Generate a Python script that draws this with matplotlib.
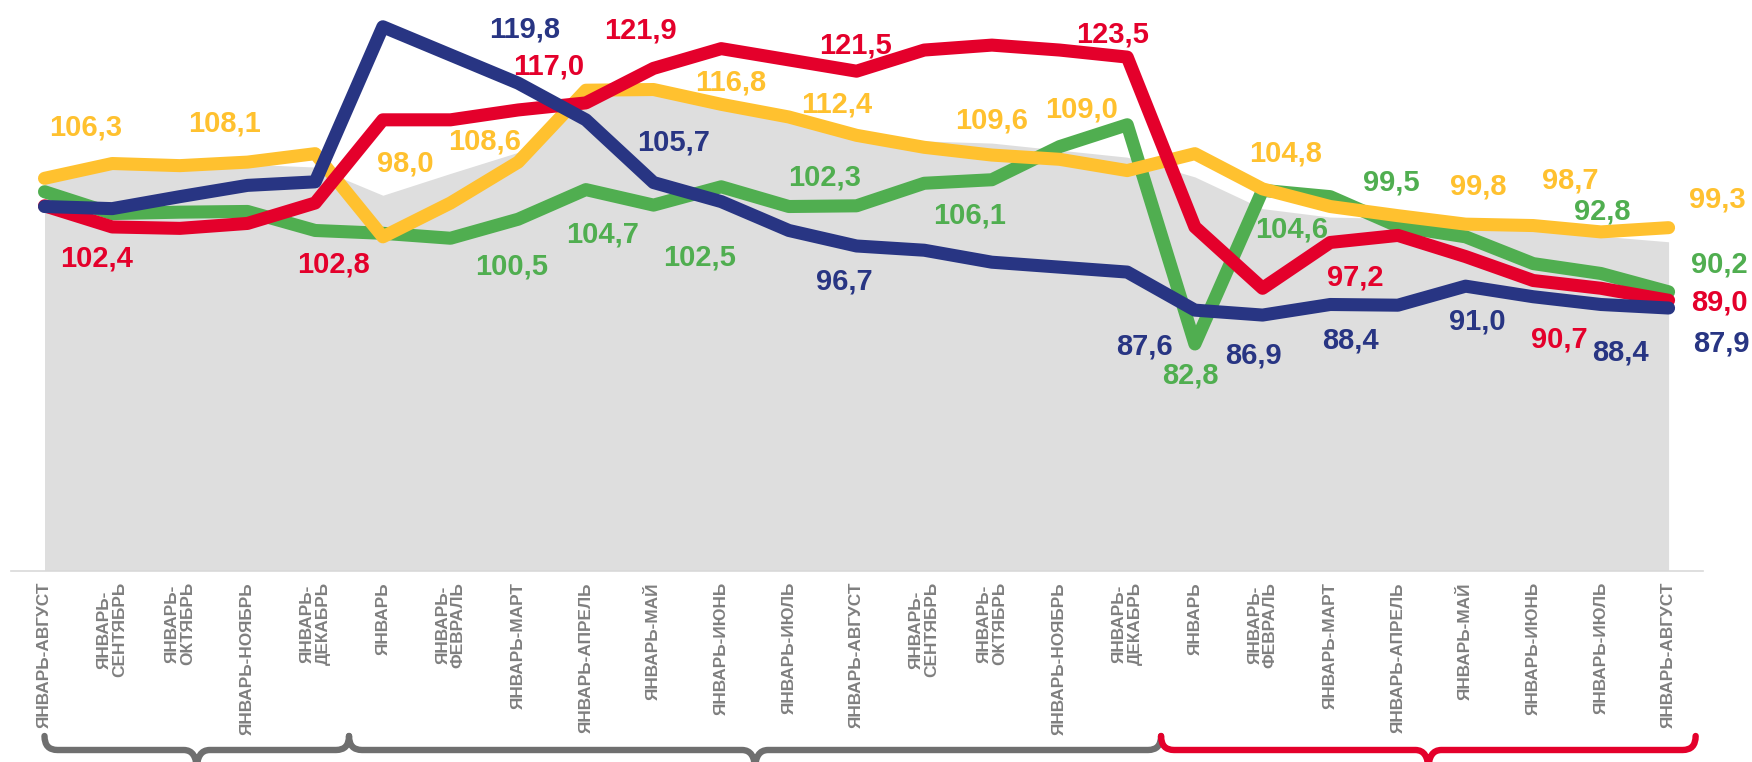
import numpy as np
import matplotlib
matplotlib.use('Agg')
import matplotlib.pyplot as plt
from matplotlib import font_manager
from matplotlib.path import Path
from matplotlib.patches import PathPatch
from matplotlib.transforms import IdentityTransform

plt.rcParams['font.family'] = ['Liberation Sans', 'DejaVu Sans']

# подписи периодов
months = ['ЯНВАРЬ-АВГУСТ', 'ЯНВАРЬ-\nСЕНТЯБРЬ', 'ЯНВАРЬ-\nОКТЯБРЬ', 'ЯНВАРЬ-НОЯБРЬ', 'ЯНВАРЬ-\nДЕКАБРЬ',
          'ЯНВАРЬ', 'ЯНВАРЬ-\nФЕВРАЛЬ', 'ЯНВАРЬ-МАРТ', 'ЯНВАРЬ-АПРЕЛЬ', 'ЯНВАРЬ-МАЙ', 'ЯНВАРЬ-ИЮНЬ',
          'ЯНВАРЬ-ИЮЛЬ', 'ЯНВАРЬ-АВГУСТ', 'ЯНВАРЬ-\nСЕНТЯБРЬ', 'ЯНВАРЬ-\nОКТЯБРЬ', 'ЯНВАРЬ-НОЯБРЬ',
          'ЯНВАРЬ-\nДЕКАБРЬ',
          'ЯНВАРЬ', 'ЯНВАРЬ-\nФЕВРАЛЬ', 'ЯНВАРЬ-МАРТ', 'ЯНВАРЬ-АПРЕЛЬ', 'ЯНВАРЬ-МАЙ', 'ЯНВАРЬ-ИЮНЬ',
          'ЯНВАРЬ-ИЮЛЬ', 'ЯНВАРЬ-АВГУСТ']

# ряды (индексы, %)
yellow = [106.3, 108.4, 108.1, 108.6, 109.8, 98.0, 102.8, 108.6, 118.8, 118.9, 116.8, 115.0, 112.4,
          110.7, 109.6, 109.0, 107.4, 109.8, 104.8, 102.3, 101.0, 99.8, 99.6, 98.7, 99.3]
red = [102.4, 99.4, 99.2, 99.9, 102.8, 114.6, 114.6, 116.0, 117.0, 121.9, 124.7, 123.1, 121.5,
       124.5, 125.2, 124.5, 123.5, 99.4, 90.7, 97.2, 98.2, 95.2, 91.8, 90.7, 89.0]
blue = [102.3, 102.0, 103.7, 105.3, 105.8, 127.8, 123.8, 119.8, 114.6, 105.7, 103.0, 98.9, 96.7,
        96.1, 94.4, 93.7, 93.0, 87.6, 86.9, 88.4, 88.3, 91.0, 89.5, 88.4, 87.9]
green = [104.4, 101.3, 101.5, 101.6, 98.9, 98.5, 97.8, 100.5, 104.7, 102.5, 105.1, 102.3, 102.4,
         105.6, 106.1, 110.8, 113.9, 82.8, 104.6, 103.7, 99.5, 98.0, 94.2, 92.8, 90.2]
grey = [105.8, 108.0, 108.0, 108.3, 107.9, 103.9, 107.0, 110.0, 118.6, 118.8, 117.0, 115.3, 112.8,
        111.6, 111.3, 110.3, 109.3, 106.5, 102.0, 100.8, 100.6, 100.1, 99.2, 98.1, 97.3]

# какие точки подписаны и смещение подписи (px)
yellow_lab = {0: (41, 53), 2: (45, 44), 5: (22, 75), 7: (-34, 23), 10: (9, 24), 12: (-20, 33),
              14: (0, 37), 15: (22, 52), 18: (23, 37), 21: (13, 40), 23: (-31, 53), 24: (49, 30)}
red_lab = {0: (52, -51), 4: (18, -60), 8: (-37, 38), 9: (-13, 40), 12: (-1, 28), 16: (-15, 25),
           19: (25, -33), 23: (-42, -49), 24: (51, 0)}
blue_lab = {7: (6, 56), 9: (20, 42), 12: (-12, -34), 17: (-50, -34), 18: (-9, -38), 19: (20, -34),
            21: (12, -33), 23: (20, -46), 24: (53, -33)}
green_lab = {7: (-7, -45), 8: (17, -43), 9: (46, -50), 11: (36, 31), 14: (-22, -34), 17: (-5, -30),
             18: (29, -37), 20: (-7, 46), 23: (1, 64), 24: (51, 29)}

# группы для скобок: (начало, конец, цвет)
groups = [(0, 4.5, '#6f6f6f'), (4.5, 16.5, '#6f6f6f'), (16.5, 24.4, '#e4002b')]

# узкий шрифт для подписей оси, если есть
names = {f.name for f in font_manager.fontManager.ttflist}
if 'Liberation Sans Narrow' in names:
    tick_font, tick_size = 'Liberation Sans Narrow', 15.4
else:
    tick_font, tick_size = 'Liberation Sans', 12.4

W, H = 1752, 762
fig = plt.figure(figsize=(W / 100, H / 100), dpi=100)
ax = fig.add_axes([11 / W, 1 - 570.5 / H, 1692 / W, 570.5 / H])
x = np.arange(len(months))
y_lo, y_hi = 50.66, 131.6
ax.set_xlim((11 - 44.5) / 67.67, (1703 - 44.5) / 67.67)
ax.set_ylim(y_lo, y_hi)

ax.fill_between(x, y_lo, grey, color='#dedede', lw=0, zorder=1)

series = [(green, '#50ae50', green_lab, 2), (yellow, '#ffc12f', yellow_lab, 3),
          (red, '#e4002b', red_lab, 4), (blue, '#283583', blue_lab, 5)]
for vals, col, labs, z in series:
    ax.plot(x, vals, color=col, lw=9.4, solid_capstyle='round', solid_joinstyle='round', zorder=z)
    for i, (dx, dy) in labs.items():
        txt = f'{vals[i]:.1f}'.replace('.', ',')
        ax.annotate(txt, (x[i], vals[i]), xytext=(dx, dy - 10), textcoords='offset pixels',
                    ha='center', va='baseline', fontsize=21, fontweight='bold', color=col,
                    zorder=10, annotation_clip=False)

ax.set_xticks(x)
ax.set_xticklabels(months, rotation=90, fontsize=tick_size, fontweight='bold', color='#7f7f7f',
                   linespacing=1.05, multialignment='center', family=[tick_font, 'DejaVu Sans'])
ax.tick_params(axis='x', length=0, pad=8.3)
ax.set_yticks([])
for s in ['top', 'left', 'right']:
    ax.spines[s].set_visible(False)
ax.spines['bottom'].set_color('#d9d9d9')
ax.spines['bottom'].set_linewidth(1.2)
ax.patch.set_alpha(0)

# фигурные скобки под подписями
def brace(x0, x1, color):
    p0 = ax.transData.transform((x0, y_lo))[0]
    p1 = ax.transData.transform((x1, y_lo))[0]
    pm = (p0 + p1) / 2
    ytop, yh, ytip, r = H - 736, H - 750, H - 770, 13
    verts = [(p0, ytop), (p0, yh), (p0 + r, yh), (pm - r, yh), (pm, yh), (pm, ytip),
             (pm, yh), (pm + r, yh), (p1 - r, yh), (p1, yh), (p1, ytop)]
    codes = [Path.MOVETO, Path.CURVE3, Path.CURVE3, Path.LINETO, Path.CURVE3, Path.CURVE3,
             Path.CURVE3, Path.CURVE3, Path.LINETO, Path.CURVE3, Path.CURVE3]
    fig.add_artist(PathPatch(Path(verts, codes), fill=False, edgecolor=color, lw=4.6,
                             capstyle='round', joinstyle='round', transform=IdentityTransform()))

for g0, g1, c in groups:
    brace(g0, g1, c)

fig.savefig('out.png', dpi=100)
